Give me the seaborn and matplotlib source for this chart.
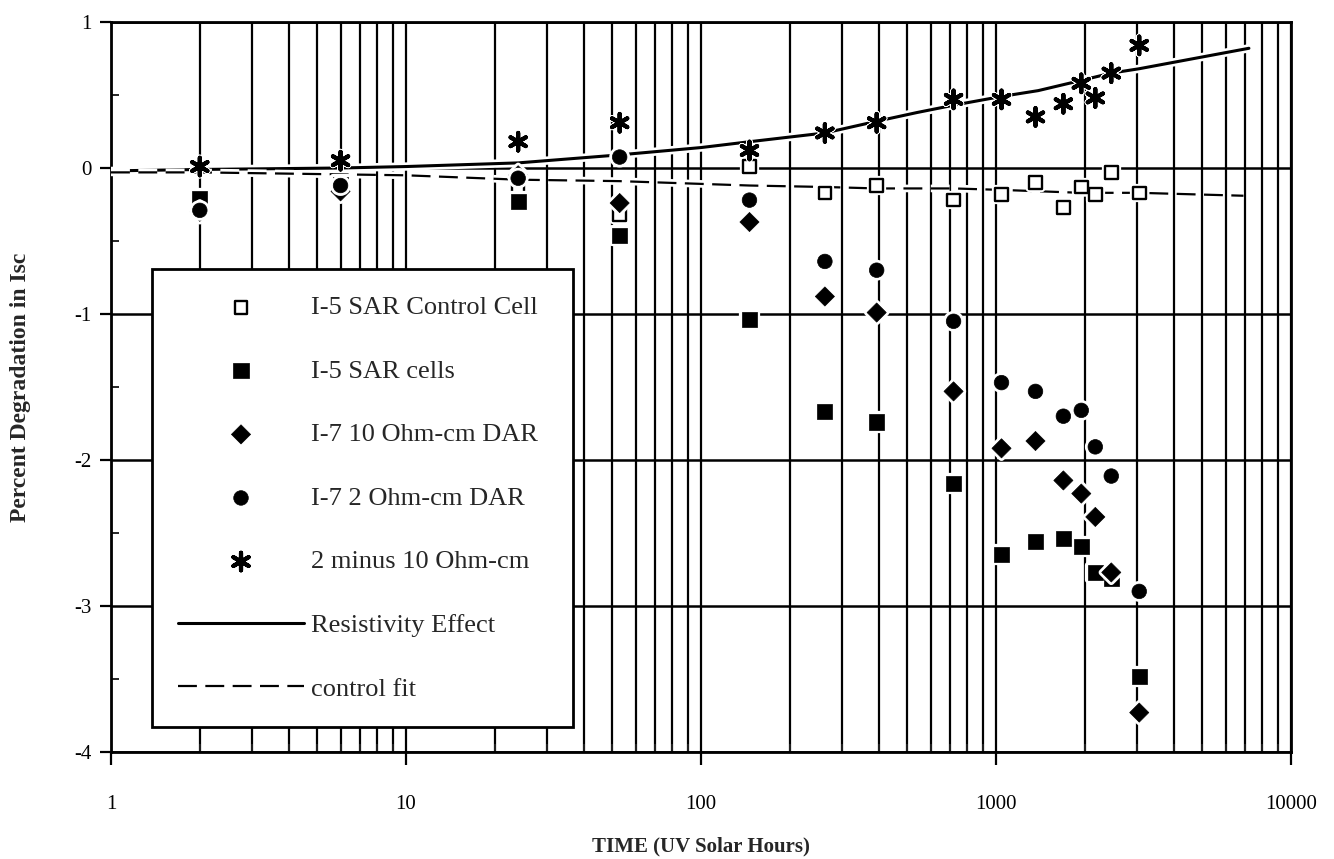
import numpy as np
import pandas as pd
import matplotlib
matplotlib.use("Agg")
import matplotlib.pyplot as plt
import matplotlib.patheffects as pe
from matplotlib.ticker import LogLocator, MultipleLocator, FuncFormatter, NullFormatter
import seaborn as sns

nan = np.nan

# ---- data ----
hours = [2, 6, 24, 53, 146, 263, 394, 718, 1044, 1361, 1692, 1946, 2171, 2459, 3059]
control_cell = [nan, nan, -0.14, -0.32, 0.01, -0.17, -0.12, -0.22, -0.18, -0.10, -0.27, -0.13, -0.18, -0.03, -0.17]
sar_cells = [-0.21, -0.11, -0.23, -0.46, -1.04, -1.67, -1.74, -2.16, -2.65, -2.56, -2.54, -2.59, -2.77, -2.81, -3.48]
ohm10_dar = [-0.30, -0.16, -0.05, -0.24, -0.37, -0.88, -0.99, -1.53, -1.92, -1.87, -2.14, -2.23, -2.39, -2.77, -3.73]
ohm2_dar = [-0.29, -0.12, -0.07, 0.075, -0.22, -0.64, -0.70, -1.05, -1.47, -1.53, -1.70, -1.66, -1.91, -2.11, -2.90]
two_minus_ten = [0.01, 0.05, 0.18, 0.31, 0.12, 0.24, 0.31, 0.47, 0.47, 0.35, 0.44, 0.58, 0.48, 0.65, 0.84]

resist_hours = [1, 2, 6, 10, 24, 53, 100, 146, 263, 394, 540, 718, 1044, 1390, 1946, 2459, 3059, 7200]
resistivity_effect = [-0.02, -0.01, 0.0, 0.01, 0.035, 0.09, 0.14, 0.18, 0.24, 0.32, 0.38, 0.43, 0.49, 0.53, 0.60, 0.65, 0.68, 0.82]
fit_hours = [1, 2, 10, 24, 53, 146, 263, 394, 718, 1044, 1946, 3059, 6900]
control_fit = [-0.03, -0.03, -0.05, -0.08, -0.09, -0.12, -0.13, -0.14, -0.14, -0.15, -0.17, -0.17, -0.19]

x_ticks = [1, 10, 100, 1000, 10000]
x_tick_labels = ["1", "10", "100", "1000", "10000"]
y_ticks = [1, 0, -1, -2, -3, -4]

labels = ["I-5 SAR Control Cell", "I-5 SAR cells", "I-7 10 Ohm-cm DAR",
          "I-7 2 Ohm-cm DAR", "2 minus 10 Ohm-cm", "Resistivity Effect", "control fit"]

# ---- styling ----
sns.set_style("white")
plt.rcParams['font.family'] = ['Liberation Serif', 'DejaVu Serif']
plt.rcParams['axes.unicode_minus'] = False

fig = plt.figure(figsize=(13.34, 8.59), dpi=100)
ax = fig.add_axes([111/1334, 1-752/859, (1291-111)/1334, (752-22)/859])

halo = lambda w: [pe.Stroke(linewidth=w, foreground='white'), pe.Normal()]

df_fit = pd.DataFrame({"h": fit_hours, "v": control_fit})
df_res = pd.DataFrame({"h": resist_hours, "v": resistivity_effect})

sns.lineplot(data=df_res, x="h", y="v", ax=ax, color="black", lw=2.2,
             estimator=None, sort=True, label=labels[5], zorder=3)
line_res = ax.lines[-1]
line_res.set_path_effects(halo(6))
sns.lineplot(data=df_fit, x="h", y="v", ax=ax, color="black", lw=1.6,
             estimator=None, sort=True, label=labels[6], zorder=3)
line_fit = ax.lines[-1]
line_fit.set_linestyle((0, (8.5, 3.8)))
line_fit.set_path_effects(halo(5.5))

df = pd.DataFrame({"h": hours, "control": control_cell, "sar": sar_cells,
                   "o10": ohm10_dar, "o2": ohm2_dar, "diff": two_minus_ten})

sns.scatterplot(data=df, x="h", y="control", ax=ax, marker="s", s=82,
                facecolor="white", edgecolor="black", linewidth=1.7,
                label=labels[0], zorder=4)
sns.scatterplot(data=df, x="h", y="sar", ax=ax, marker="s", s=118,
                color="black", edgecolor="black", linewidth=0.5,
                label=labels[1], zorder=4)
sns.scatterplot(data=df, x="h", y="o10", ax=ax, marker="D", s=95,
                color="black", edgecolor="black", linewidth=0.5,
                label=labels[2], zorder=4)
sns.scatterplot(data=df, x="h", y="o2", ax=ax, marker="o", s=110,
                color="black", edgecolor="black", linewidth=0.5,
                label=labels[3], zorder=4)
sns.scatterplot(data=df, x="h", y="diff", ax=ax, marker=(6, 2, 0), s=160,
                color="black", linewidth=3.0,
                label=labels[4], zorder=5)

for coll in ax.collections:
    coll.set_path_effects(halo(4.5))

# ---- axes ----
ax.set_xscale("log")
ax.set_xlim(1, 10000)
ax.set_ylim(-4, 1)
ax.xaxis.set_major_locator(LogLocator(base=10, numticks=10))
ax.xaxis.set_minor_locator(LogLocator(base=10, subs=np.arange(2, 10), numticks=50))
ax.xaxis.set_minor_formatter(NullFormatter())
ax.set_xticks(x_ticks)
ax.set_xticklabels(x_tick_labels)
ax.set_yticks(y_ticks)
ax.yaxis.set_major_formatter(FuncFormatter(lambda v, p: f"{int(round(v))}"))
ax.yaxis.set_minor_locator(MultipleLocator(0.5))

ax.grid(True, which="both", axis="x", color="black", lw=1.6)
ax.grid(True, which="major", axis="y", color="black", lw=1.8)
ax.set_axisbelow(True)

for sp in ax.spines.values():
    sp.set_color("black")
    sp.set_linewidth(2)
    sp.set_visible(True)

ax.tick_params(axis="x", which="major", direction="out", length=9, width=1.6,
               pad=22, labelsize=15, colors="black")
ax.tick_params(axis="x", which="minor", direction="in", length=6, width=1.2)
ax.tick_params(axis="y", which="major", direction="out", length=8, width=1.6,
               pad=6, labelsize=15, colors="black", left=True)
ax.tick_params(axis="y", which="minor", direction="in", length=6, width=1.4, left=True)
ax.tick_params(bottom=True, which="both")

ax.set_xlabel("TIME (UV Solar Hours)", fontsize=15, fontweight="bold", labelpad=16)
ax.set_ylabel("Percent Degradation in Isc", fontsize=17, fontweight="bold", labelpad=31)

# ---- legend ----
handles, hl = ax.get_legend_handles_labels()
hmap = dict(zip(hl, handles))
leg = ax.legend([hmap[l] for l in labels], labels, loc="lower left",
                bbox_to_anchor=(0.0347, 0.0342, 0.3568, 0.6), mode="expand",
                borderaxespad=0,
                fontsize=19, frameon=True, fancybox=False, shadow=False,
                framealpha=1, edgecolor="black", handlelength=4.75,
                handletextpad=0.27, borderpad=1.0, labelspacing=1.52,
                scatterpoints=1)
leg.get_frame().set_linewidth(2)
leg.set_zorder(10)

fig.savefig("out.png", dpi=100, facecolor="white")
